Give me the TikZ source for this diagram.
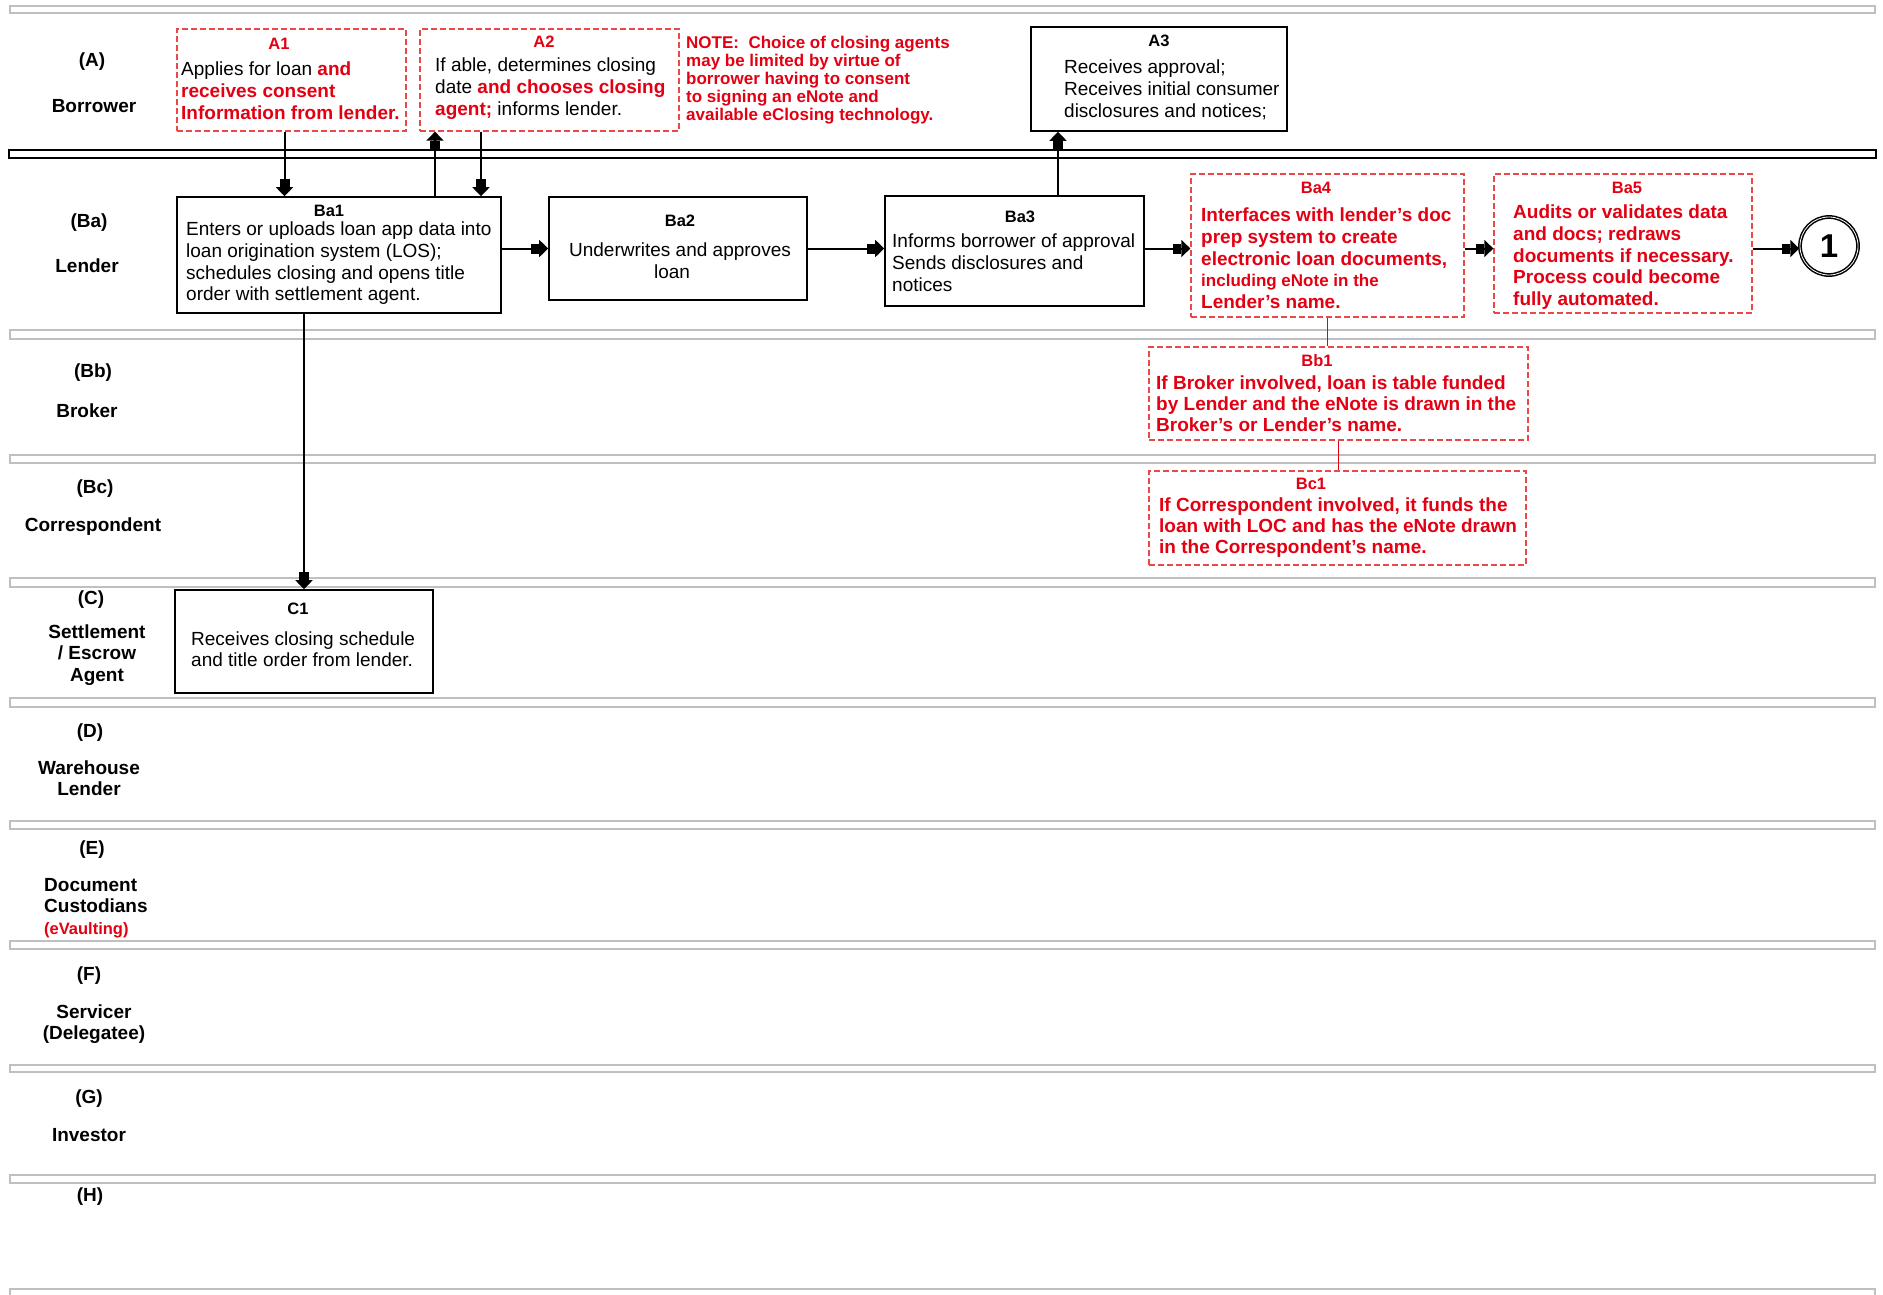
\documentclass[tikz,border=0pt]{standalone}
\usepackage{fontspec}
\setmainfont{Liberation Sans}
\usetikzlibrary{arrows.meta,positioning}
\definecolor{notered}{RGB}{226,0,18}
\definecolor{dashred}{RGB}{232,72,72}
\definecolor{bargray}{RGB}{192,192,192}
\newcommand{\hot}[1]{\textcolor{notered}{\textbf{#1}}}

\begin{document}
\begin{tikzpicture}[
    x=1pt,y=-1pt,
    lanebar/.style={draw=bargray,line width=1.8pt,fill=white},
    mainbar/.style={draw=black,line width=2pt,fill=white},
    solidbox/.style={draw=black,line width=1.6pt,inner sep=0pt},
    dashbox/.style={draw=dashred,line width=1.3pt,dash pattern=on 6pt off 3pt,inner sep=0pt},
    tag/.style={font=\bfseries\fontsize{16.5}{18}\selectfont,inner sep=0pt},
    redtag/.style={tag,text=notered},
    body/.style={font=\fontsize{19}{21.6}\selectfont,align=left,anchor=north west,inner sep=0pt},
    redbody/.style={body,text=notered,font=\bfseries\fontsize{19}{21.6}\selectfont},
    lanetag/.style={font=\bfseries\fontsize{19}{21.6}\selectfont,align=center,inner sep=0pt},
    arrow/.style={line width=2pt,-{Rectangle[length=8pt,width=10pt,sep=0pt]Triangle[length=9pt,width=17pt]}},
    link/.style={draw=notered,line width=1.6pt}
  ]
  \useasboundingbox (0,0) rectangle (1883,1294);

  % swimlane separators
  \foreach \top/\bot in {6/13,330/339,455/463,578/587,698/707,821/829,941/949,1065/1072,1175/1183,1289/1298}
    \draw[lanebar] (10,\top) rectangle (1875,\bot);
  \draw[mainbar] (9,150) rectangle (1876,158);

  % lane names
  \node[lanetag] (lA) at (92,62) {(A)};
  \node[lanetag] (nA) at (94,106) {Borrower};
  \node[lanetag] (lBa) at (89,223) {(Ba)};
  \node[lanetag] (nBa) at (87,266) {Lender};
  \node[lanetag] (lBb) at (93,373) {(Bb)};
  \node[lanetag] (nBb) at (87,411) {Broker};
  \node[lanetag] (lBc) at (95,489) {(Bc)};
  \node[lanetag] (nBc) at (93,527) {Correspondent};
  \node[lanetag] (lC) at (91,600) {(C)};
  \node[lanetag] (nC) at (97,655) {Settlement\\/ Escrow\\Agent};
  \node[lanetag] (lD) at (90,733) {(D)};
  \node[lanetag] (nD) at (89,778) {Warehouse\\Lender};
  \node[lanetag] (lE) at (92,850) {(E)};
  \node[lanetag,align=left,anchor=north west] (nE) at (44,878) {Document\\Custodians\\{\color{notered}\fontsize{16.5}{17}\selectfont(eVaulting)}};
  \node[lanetag] (lF) at (89,976) {(F)};
  \node[lanetag] (nF) at (94,1024) {Servicer\\(Delegatee)};
  \node[lanetag] (lG) at (89,1099) {(G)};
  \node[lanetag] (nG) at (89,1135) {Investor};
  \node[lanetag] (lH) at (90,1197) {(H)};

  % borrower
  \node[dashbox,minimum width=229pt,minimum height=102pt] (a1) at (291.5,80) {};
  \node[redtag] (a1t) at (279,44) {A1};
  \node[body] (a1b) at (181,62) {Applies for loan \hot{and}\\\hot{receives consent}\\\hot{Information from lender.}};
  \node[dashbox,minimum width=259pt,minimum height=102pt] (a2) at (549.5,80) {};
  \node[redtag] (a2t) at (544,42) {A2};
  \node[body] (a2b) at (435,58) {If able, determines closing\\date \hot{and chooses closing}\\\hot{agent;} informs lender.};
  \node[body,text=notered,font=\bfseries\fontsize{17}{18}\selectfont] (note) at (686,36)
    {NOTE:\ \ Choice of closing agents\\may be limited by virtue of\\borrower having to consent\\to signing an eNote and\\available eClosing technology.};
  \node[solidbox,minimum width=256pt,minimum height=104pt] (a3) at (1159,79) {};
  \node[tag] (a3t) at (1159,41) {A3};
  \node[body] (a3b) at (1064,60) {Receives approval;\\Receives initial consumer\\disclosures and notices;};

  % lender
  \node[solidbox,minimum width=324pt,minimum height=116pt] (ba1) at (339,255) {};
  \node[tag] (ba1t) at (329,211) {Ba1};
  \node[body] (ba1b) at (186,222) {Enters or uploads loan app data into\\loan origination system (LOS);\\schedules closing and opens title\\order with settlement agent.};
  \node[solidbox,minimum width=258pt,minimum height=103pt] (ba2) at (678,248.5) {};
  \node[tag] (ba2t) at (680,221) {Ba2};
  \node[body,anchor=north,align=center] (ba2b) at (680,243) {Underwrites and approves\\loan\hspace*{16pt}};
  \node[solidbox,minimum width=259pt,minimum height=110pt] (ba3) at (1014.5,251) {};
  \node[tag] (ba3t) at (1020,217) {Ba3};
  \node[body] (ba3b) at (892,234) {Informs borrower of approval\\Sends disclosures and\\notices};
  \node[dashbox,minimum width=273pt,minimum height=143pt] (ba4) at (1327.5,245.5) {};
  \node[redtag] (ba4t) at (1316,188) {Ba4};
  \node[redbody] (ba4b) at (1201,208) {Interfaces with lender’s doc\\prep system to create\\electronic loan documents,\\{\fontsize{17}{21.6}\selectfont including eNote in the}\\Lender’s name.};
  \node[dashbox,minimum width=258pt,minimum height=139pt] (ba5) at (1623,243.5) {};
  \node[redtag] (ba5t) at (1627,188) {Ba5};
  \node[redbody] (ba5b) at (1513,205) {Audits or validates data\\and docs; redraws\\documents if necessary.\\Process could become\\fully automated.};
  \node[draw,circle,double,line width=1.5pt,double distance=0.8pt,minimum size=58pt,inner sep=0pt,
    font=\bfseries\fontsize{33}{33}\selectfont] (end1) at (1829,246) {1};

  % broker and correspondent
  \node[dashbox,minimum width=379pt,minimum height=93pt] (bb1) at (1338.5,393.5) {};
  \node[redtag] (bb1t) at (1317,361) {Bb1};
  \node[redbody,font=\bfseries\fontsize{19}{20.6}\selectfont] (bb1b) at (1156,376) {If Broker involved, loan is table funded\\by Lender and the eNote is drawn in the\\Broker’s or Lender’s name.};
  \node[dashbox,minimum width=377pt,minimum height=94pt] (bc1) at (1337.5,518) {};
  \node[redtag] (bc1t) at (1311,484) {Bc1};
  \node[redbody,font=\bfseries\fontsize{19}{21}\selectfont] (bc1b) at (1159,498) {If Correspondent involved, it funds the\\loan with LOC and has the eNote drawn\\in the Correspondent’s name.};

  % settlement agent
  \node[solidbox,minimum width=258pt,minimum height=103pt] (c1) at (304,641.5) {};
  \node[tag] (c1t) at (298,609) {C1};
  \node[body,font=\fontsize{19}{20.4}\selectfont] (c1b) at (191,632) {Receives closing schedule\\and title order from lender.};

  % connectors
  \coordinate (flow) at (0,248.5);
  \coordinate (a1foot) at ([xshift=-7pt]a1.south);
  \coordinate (ba1up) at ([xshift=96pt]ba1.north);
  \coordinate (a2foot) at ([xshift=-68.5pt]a2.south);
  \coordinate (ba3up) at ([xshift=43.5pt]ba3.north);
  \draw[arrow] (a1foot) -- (a1foot |- ba1.north);
  \draw[arrow] (ba1up) -- (ba1up |- a2.south);
  \draw[arrow] (a2foot) -- (a2foot |- ba1.north);
  \draw[arrow] (flow -| ba1.east) -- (flow -| ba2.west);
  \draw[arrow] (flow -| ba2.east) -- (flow -| ba3.west);
  \draw[arrow] (ba3up) -- (ba3up |- a3.south);
  \draw[arrow] (flow -| ba3.east) -- (flow -| ba4.west);
  \draw[arrow] (flow -| ba4.east) -- (flow -| ba5.west);
  \draw[arrow] (flow -| ba5.east) -- (flow -| end1.west);
  \draw[arrow] (ba1.south -| c1.north) -- (c1.north);
  \draw[link] (ba4.south) -- (ba4.south |- bb1.north);
  \draw[link] (bb1.south) -- (bb1.south |- bc1.north);
\end{tikzpicture}
\end{document}
